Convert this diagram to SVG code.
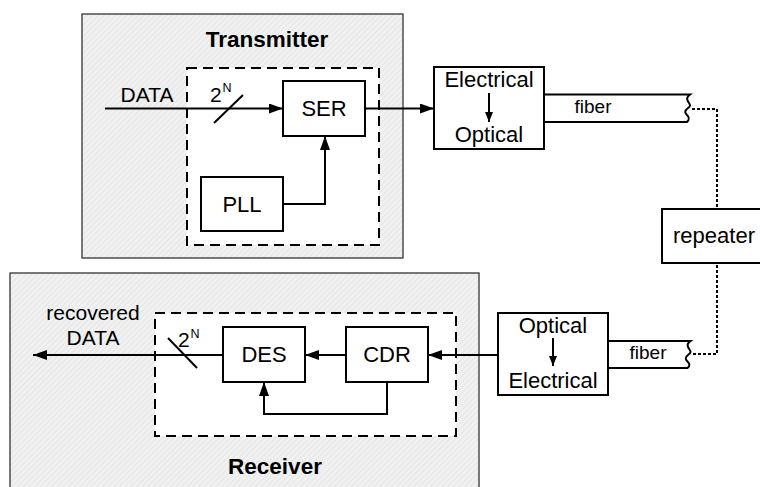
<svg xmlns="http://www.w3.org/2000/svg" width="760" height="487" viewBox="0 0 760 487">
<defs>
<pattern id="hatch" width="4" height="4" patternUnits="userSpaceOnUse" patternTransform="rotate(45)">
<rect width="4" height="4" fill="#f1f1f1"/>
<line x1="0" y1="0" x2="0" y2="4" stroke="#dedede" stroke-width="1.2"/>
</pattern>
<marker id="ah" markerWidth="14" markerHeight="10" refX="14" refY="5" orient="auto" markerUnits="userSpaceOnUse">
<path d="M0,0 L14,5 L0,10 Z" fill="#000"/>
</marker>
<marker id="ahs" markerWidth="10" markerHeight="8" refX="10" refY="4" orient="auto" markerUnits="userSpaceOnUse">
<path d="M0,0 L10,4 L0,8 Z" fill="#000"/>
</marker>
</defs>
<style>
.t{font-family:"Liberation Sans",Arial,sans-serif;font-size:22px;fill:#000}
.d{font-family:"Liberation Sans",Arial,sans-serif;font-size:21px;fill:#000}
.f{font-family:"Liberation Sans",Arial,sans-serif;font-size:19px;fill:#000}
.b{font-family:"Liberation Sans",Arial,sans-serif;font-size:22.5px;font-weight:bold;fill:#000}
.sup{font-family:"Liberation Sans",Arial,sans-serif;font-size:12.5px;fill:#000}
.box{fill:#fff;stroke:#000;stroke-width:2}
.outer{fill:url(#hatch);stroke:#333;stroke-width:1.3}
.dash{fill:#fff;stroke:#000;stroke-width:2;stroke-dasharray:10,6}
.ln{fill:none;stroke:#000;stroke-width:2}
.dot{fill:none;stroke:#000;stroke-width:2;stroke-dasharray:3,2}
</style>

<g id="transmitter">
<rect class="outer" x="82" y="14" width="321" height="244"/>
<text class="b" x="267" y="47" text-anchor="middle">Transmitter</text>
<rect class="dash" x="187" y="68" width="192" height="177"/>
</g>

<g id="receiver">
<rect class="outer" x="10" y="273" width="469" height="220"/>
<text class="b" x="275" y="474" text-anchor="middle">Receiver</text>
<rect class="dash" x="155" y="313" width="301" height="123"/>
</g>

<g id="ser">
<rect class="box" x="283" y="81" width="82" height="55"/>
<text class="t" x="324" y="116" text-anchor="middle">SER</text>
</g>

<g id="pll">
<rect class="box" x="201" y="177" width="82" height="54"/>
<text class="t" x="242" y="212" text-anchor="middle">PLL</text>
</g>

<g id="eo">
<rect class="box" x="434" y="67" width="110" height="82"/>
<text class="t" x="489" y="87" text-anchor="middle">Electrical</text>
<text class="t" x="489" y="142" text-anchor="middle">Optical</text>
</g>

<g id="fiber1">
<path class="ln" d="M544,94.5 H690 c-4,3 -3,5 -2,7 c1,2 4,4 0,6.5 c-4,3 -3,5 -1,7 c2,2 3,4 0,7 H544"/>
<text class="f" x="593" y="113" text-anchor="middle">fiber</text>
</g>

<g id="repeater">
<rect class="box" x="662" y="209" width="110" height="54"/>
<text class="t" x="714" y="243" text-anchor="middle">repeater</text>
</g>

<g id="fiber2">
<path class="ln" d="M608,341 H690.5 c-4,3 -3,5 -2,7 c1,2 4,4 0,6.5 c-4,3 -3,5 -1,7 c2,2 3,4 0,6.5 H608"/>
<text class="f" x="648" y="359" text-anchor="middle">fiber</text>
</g>

<g id="oe">
<rect class="box" x="498" y="313" width="110" height="82"/>
<text class="t" x="553" y="333" text-anchor="middle">Optical</text>
<text class="t" x="553" y="388" text-anchor="middle">Electrical</text>
</g>

<g id="des">
<rect class="box" x="223" y="327" width="82" height="55"/>
<text class="t" x="264" y="362" text-anchor="middle">DES</text>
</g>

<g id="cdr">
<rect class="box" x="346" y="327" width="82" height="55"/>
<text class="t" x="387" y="362" text-anchor="middle">CDR</text>
</g>

<g id="labels">
<text class="d" x="147" y="102" text-anchor="middle">DATA</text>
<text class="d" x="210" y="102">2</text>
<text class="sup" x="222.5" y="92">N</text>
<text class="d" x="93" y="320" text-anchor="middle">recovered</text>
<text class="d" x="93" y="345" text-anchor="middle">DATA</text>
<text class="d" x="178" y="347">2</text>
<text class="sup" x="190.5" y="338">N</text>
</g>

<g id="connectors">
<line class="ln" x1="105" y1="108.5" x2="283" y2="108.5" marker-end="url(#ah)"/>
<line class="ln" x1="214" y1="123" x2="243" y2="95"/>
<polyline class="ln" points="283,204 325,204 325,136" marker-end="url(#ah)"/>
<line class="ln" x1="365" y1="108.5" x2="434" y2="108.5" marker-end="url(#ah)"/>
<line class="ln" x1="489" y1="93" x2="489" y2="122" marker-end="url(#ahs)"/>
<polyline class="dot" points="692,109 717,109 717,209"/>
<polyline class="dot" points="693,354 717,354 717,263"/>
<line class="ln" x1="553" y1="338" x2="553" y2="366" marker-end="url(#ahs)"/>
<line class="ln" x1="498" y1="355" x2="428" y2="355" marker-end="url(#ah)"/>
<line class="ln" x1="346" y1="355" x2="305" y2="355" marker-end="url(#ah)"/>
<polyline class="ln" points="387,382 387,414 264,414 264,382" marker-end="url(#ah)"/>
<line class="ln" x1="223" y1="355" x2="33" y2="355" marker-end="url(#ah)"/>
<line class="ln" x1="168" y1="338" x2="197" y2="368"/>
</g>
</svg>
